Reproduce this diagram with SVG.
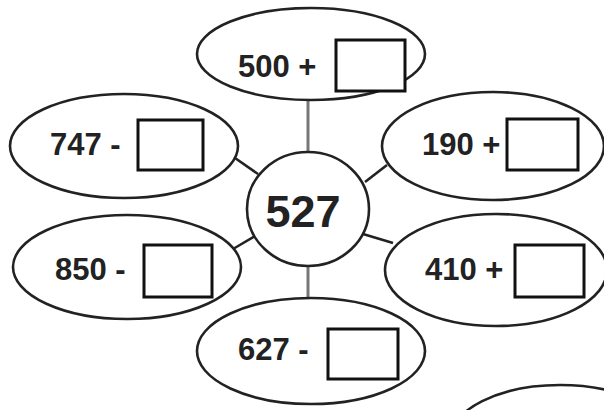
<svg xmlns="http://www.w3.org/2000/svg" width="604" height="410" viewBox="0 0 604 410">
<style>
.e{fill:#fff;stroke:#222;stroke-width:2.6}
.b{fill:#fff;stroke:#111;stroke-width:3}
.t{font-family:"Liberation Sans",Arial,sans-serif;font-weight:bold;font-size:31px;fill:#222}
.c{font-family:"Liberation Sans",Arial,sans-serif;font-weight:bold;font-size:45px;fill:#222;text-anchor:middle}
.k{stroke:#222;stroke-width:2.6;fill:none}
.g{stroke:#777;stroke-width:3;fill:none}
</style>
<rect width="604" height="410" fill="#fff"/>
<g id="connectors">
<line class="g" x1="308" y1="99" x2="308" y2="153"/>
<line class="g" x1="308" y1="264" x2="308" y2="298"/>
<line class="k" x1="235" y1="158" x2="258" y2="174"/>
<line class="k" x1="387" y1="165" x2="365" y2="182"/>
<line class="k" x1="233" y1="249" x2="257" y2="235"/>
<line class="k" x1="393" y1="243" x2="363" y2="234"/>
</g>
<g id="n500">
<ellipse class="e" cx="311" cy="54" rx="114" ry="46"/>
<text class="t" x="238" y="77">500 +</text>
<rect class="b" x="336" y="40" width="69" height="51"/>
</g>
<g id="n747">
<ellipse class="e" cx="124" cy="146" rx="114" ry="52"/>
<text class="t" x="50" y="155">747 -</text>
<rect class="b" x="138" y="120" width="65" height="50"/>
</g>
<g id="n190">
<ellipse class="e" cx="493" cy="146" rx="111" ry="54"/>
<text class="t" x="422" y="155">190 +</text>
<rect class="b" x="507" y="119" width="71" height="51"/>
</g>
<g id="n850">
<ellipse class="e" cx="127" cy="267" rx="114" ry="52"/>
<text class="t" x="55" y="280">850 -</text>
<rect class="b" x="144" y="245" width="68" height="52"/>
</g>
<g id="n410">
<ellipse class="e" cx="496" cy="270" rx="111" ry="56"/>
<text class="t" x="425" y="280">410 +</text>
<rect class="b" x="515" y="245" width="69" height="52"/>
</g>
<g id="n627">
<ellipse class="e" cx="311" cy="351" rx="114" ry="53"/>
<text class="t" x="238" y="360">627 -</text>
<rect class="b" x="328" y="329" width="70" height="50"/>
</g>
<g id="center">
<ellipse class="e" cx="308" cy="209" rx="61" ry="57"/>
<text class="c" x="303" y="227">527</text>
</g>
<g id="partial">
<ellipse class="e" cx="560" cy="440" rx="110" ry="55"/>
</g>
</svg>
